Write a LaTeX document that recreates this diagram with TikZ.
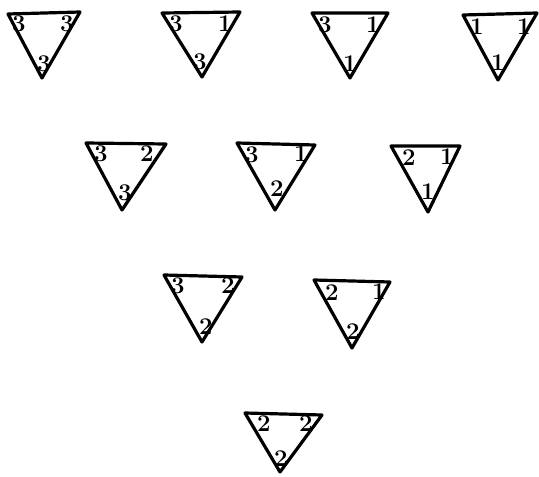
\documentclass[tikz,border=0pt]{standalone}
\begin{document}
\begin{tikzpicture}[x=1pt,y=-1pt,
  edge/.style={line width=3.2pt, line join=round, line cap=round},
  lab/.style={font=\fontsize{24}{24}\selectfont\bfseries, inner sep=0pt}]
\useasboundingbox (0,0) rectangle (539,477);
% Row 1
\coordinate (t1a) at (8,14); \coordinate (t1b) at (80,12); \coordinate (t1c) at (42,78);
\draw[edge] (t1a)--(t1b)--(t1c)--cycle;
\node[lab] (t1la) at (19,24) {3}; \node[lab] (t1lb) at (67,24) {3}; \node[lab] (t1lc) at (44,64) {3};
\coordinate (t2a) at (162,13); \coordinate (t2b) at (240,12); \coordinate (t2c) at (202,77);
\draw[edge] (t2a)--(t2b)--(t2c)--cycle;
\node[lab] (t2la) at (176,24) {3}; \node[lab] (t2lb) at (225,24) {1}; \node[lab] (t2lc) at (200,62) {3};
\coordinate (t3a) at (312,13); \coordinate (t3b) at (388,13); \coordinate (t3c) at (350,78);
\draw[edge] (t3a)--(t3b)--(t3c)--cycle;
\node[lab] (t3la) at (325,25) {3}; \node[lab] (t3lb) at (373,25) {1}; \node[lab] (t3lc) at (350,64) {1};
\coordinate (t4a) at (463,15); \coordinate (t4b) at (537,13); \coordinate (t4c) at (498,80);
\draw[edge] (t4a)--(t4b)--(t4c)--cycle;
\node[lab] (t4la) at (477,27) {1}; \node[lab] (t4lb) at (524,27) {1}; \node[lab] (t4lc) at (498,63) {1};
% Row 2
\coordinate (t5a) at (86,143); \coordinate (t5b) at (166,144); \coordinate (t5c) at (122,210);
\draw[edge] (t5a)--(t5b)--(t5c)--cycle;
\node[lab] (t5la) at (101,154) {3}; \node[lab] (t5lb) at (147,154) {2}; \node[lab] (t5lc) at (125,193) {3};
\coordinate (t6a) at (237,143); \coordinate (t6b) at (315,145); \coordinate (t6c) at (275,210);
\draw[edge] (t6a)--(t6b)--(t6c)--cycle;
\node[lab] (t6la) at (252,155) {3}; \node[lab] (t6lb) at (301,154) {1}; \node[lab] (t6lc) at (277,189) {2};
\coordinate (t7a) at (391,146); \coordinate (t7b) at (460,146); \coordinate (t7c) at (428,212);
\draw[edge] (t7a)--(t7b)--(t7c)--cycle;
\node[lab] (t7la) at (409,158) {2}; \node[lab] (t7lb) at (447,157) {1}; \node[lab] (t7lc) at (428,192) {1};
% Row 3
\coordinate (t8a) at (164,275); \coordinate (t8b) at (242,277); \coordinate (t8c) at (202,342);
\draw[edge] (t8a)--(t8b)--(t8c)--cycle;
\node[lab] (t8la) at (178,286) {3}; \node[lab] (t8lb) at (228,286) {2}; \node[lab] (t8lc) at (206,327) {2};
\coordinate (t9a) at (314,280); \coordinate (t9b) at (390,282); \coordinate (t9c) at (352,348);
\draw[edge] (t9a)--(t9b)--(t9c)--cycle;
\node[lab] (t9la) at (332,293) {2}; \node[lab] (t9lb) at (379,292) {1}; \node[lab] (t9lc) at (353,332) {2};
% Row 4
\coordinate (t10a) at (245,413); \coordinate (t10b) at (322,415); \coordinate (t10c) at (280,472);
\draw[edge] (t10a)--(t10b)--(t10c)--cycle;
\node[lab] (t10la) at (264,424) {2}; \node[lab] (t10lb) at (306,424) {2}; \node[lab] (t10lc) at (281,459) {2};
\end{tikzpicture}
\end{document}
